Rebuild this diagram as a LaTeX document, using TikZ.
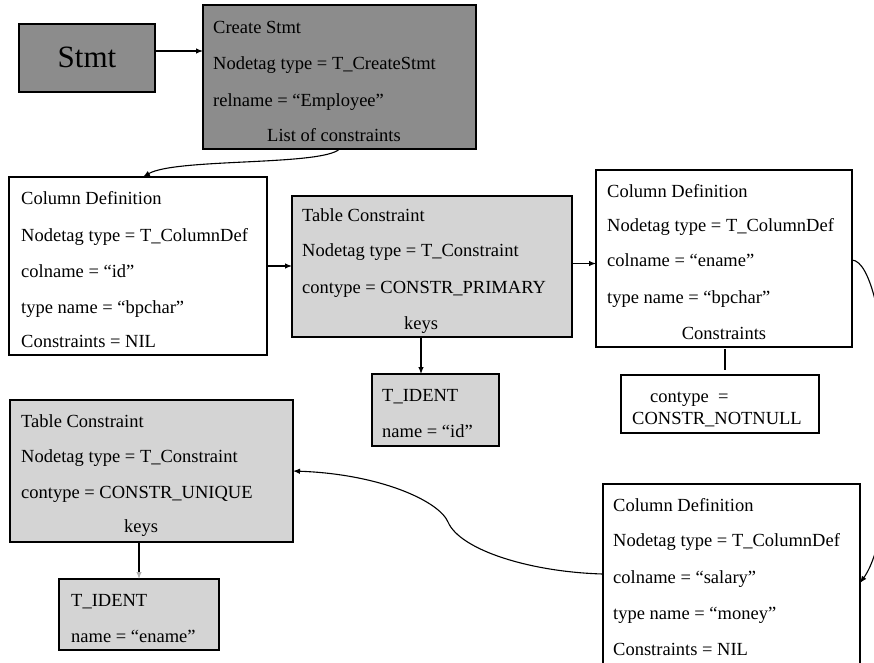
\documentclass[tikz,border=0pt]{standalone}
\usepackage{fontspec}
\setmainfont{Liberation Serif}
\usetikzlibrary{arrows.meta}
\definecolor{darkgr}{HTML}{8C8C8C}
\definecolor{lightgr}{HTML}{D4D4D4}
\definecolor{tipgr}{HTML}{B0B0B0}
\begin{document}
\begin{tikzpicture}[x=1pt,y=-1pt,
  box/.style={draw=black,line width=1.3pt,anchor=north west,inner sep=0pt,outer sep=0pt},
  darkbox/.style={box,fill=darkgr},
  lightbox/.style={box,fill=lightgr},
  whitebox/.style={box,fill=white},
  txt/.style={anchor=base west,inner sep=0pt,font=\fontsize{18.5}{22}\selectfont},
  ctxt/.style={anchor=base,inner sep=0pt,font=\fontsize{18.5}{22}\selectfont},
  conn/.style={line width=1.1pt,-{Latex[length=7pt,width=5.5pt]}},
  plain/.style={line width=1.1pt}]
\useasboundingbox (0,0) rectangle (874,662);
\clip (0,0) rectangle (874,662);

% boxes
\node[darkbox,minimum width=136pt,minimum height=68pt] (stmt) at (19,24) {};
\node[darkbox,minimum width=273pt,minimum height=144pt] (cs) at (203,5) {};
\node[whitebox,minimum width=258pt,minimum height=178pt] (cd1) at (9,177) {};
\node[lightbox,minimum width=280pt,minimum height=141pt] (tc1) at (292,196) {};
\node[whitebox,minimum width=256pt,minimum height=177pt] (cd2) at (596,170) {};
\node[whitebox,minimum width=198pt,minimum height=58pt] (nn) at (621,375) {};
\node[lightbox,minimum width=127pt,minimum height=72pt] (id1) at (372,374) {};
\node[lightbox,minimum width=283pt,minimum height=142pt] (tc2) at (10,400) {};
\node[lightbox,minimum width=160pt,minimum height=71pt] (id2) at (59,579) {};
\node[whitebox,minimum width=257pt,minimum height=198pt] (cd3) at (603,484) {};

% texts
\node[anchor=center,inner sep=0pt,font=\fontsize{31}{36}\selectfont] (tstmt) at (87,57) {Stmt};

\node[txt] (cs1) at (213,33) {Create Stmt};
\node[txt] (cs2) at (213,69) {Nodetag type = T\_CreateStmt};
\node[txt] (cs3) at (213,106) {relname = “Employee”};
\node[ctxt] (cs4) at (334,141) {List of constraints};

\node[txt] (a1) at (21,204) {Column Definition};
\node[txt] (a2) at (21,241) {Nodetag type = T\_ColumnDef};
\node[txt] (a3) at (21,277) {colname = “id”};
\node[txt] (a4) at (21,313) {type name = “bpchar”};
\node[txt] (a5) at (21,347) {Constraints = NIL};

\node[txt] (b1) at (302,221) {Table Constraint};
\node[txt] (b2) at (302,256) {Nodetag type = T\_Constraint};
\node[txt] (b3) at (302,293) {contype = CONSTR\_PRIMARY};
\node[ctxt] (b4) at (421,329) {keys};

\node[txt] (c1) at (607,197) {Column Definition};
\node[txt] (c2) at (607,231) {Nodetag type = T\_ColumnDef};
\node[txt] (c3) at (607,266) {colname = “ename”};
\node[txt] (c4) at (607,303) {type name = “bpchar”};
\node[ctxt] (c5) at (724,339) {Constraints};

\node[txt] (n1) at (650,402) {contype\ \ =};
\node[txt] (n2) at (632,424) {CONSTR\_NOTNULL};

\node[txt] (i1) at (382,401) {T\_IDENT};
\node[txt] (i2) at (382,437) {name = “id”};

\node[txt] (d1) at (21,427) {Table Constraint};
\node[txt] (d2) at (21,462) {Nodetag type = T\_Constraint};
\node[txt] (d3) at (21,498) {contype = CONSTR\_UNIQUE};
\node[ctxt] (d4) at (141,532) {keys};

\node[txt] (j1) at (71,606) {T\_IDENT};
\node[txt] (j2) at (71,642) {name = “ename”};

\node[txt] (e1) at (613,511) {Column Definition};
\node[txt] (e2) at (613,546) {Nodetag type = T\_ColumnDef};
\node[txt] (e3) at (613,583) {colname = “salary”};
\node[txt] (e4) at (613,619) {type name = “money”};
\node[txt] (e5) at (613,655) {Constraints = NIL};

% connectors
\draw[conn] ([yshift=7pt]stmt.east) -- ([yshift=7pt]stmt.east -| cs.west);
\draw[conn] (cs.south) .. controls (322,166) and (175,158) .. ([xshift=5pt]cd1.north);
\draw[conn] (cd1.east) -- (cd1.east -| tc1.west);
\draw[conn] ([yshift=3pt]tc1.east) -- ([yshift=3pt]tc1.east -| cd2.west);
\draw[conn] (b4.south |- tc1.south) -- (b4.south |- id1.north);
\draw[plain,shorten <=2pt,shorten >=5pt] ([xshift=1pt]cd2.south) -- ([xshift=1pt]cd2.south |- nn.north);
\draw[line width=1.1pt,-{Latex[length=7pt,width=5.5pt,color=tipgr]}] (id2.north |- tc2.south) -- (id2.north);
\draw[conn] ([yshift=-1.5pt]cd2.east) .. controls (890,262) and (905,520) .. ([yshift=-0pt]cd3.east);
\draw[conn] ([yshift=9pt]cd3.west) .. controls (530,572) and (460,550) .. (448,522)
  .. controls (439,501) and (380,474) .. (tc2.east);
\end{tikzpicture}
\end{document}
